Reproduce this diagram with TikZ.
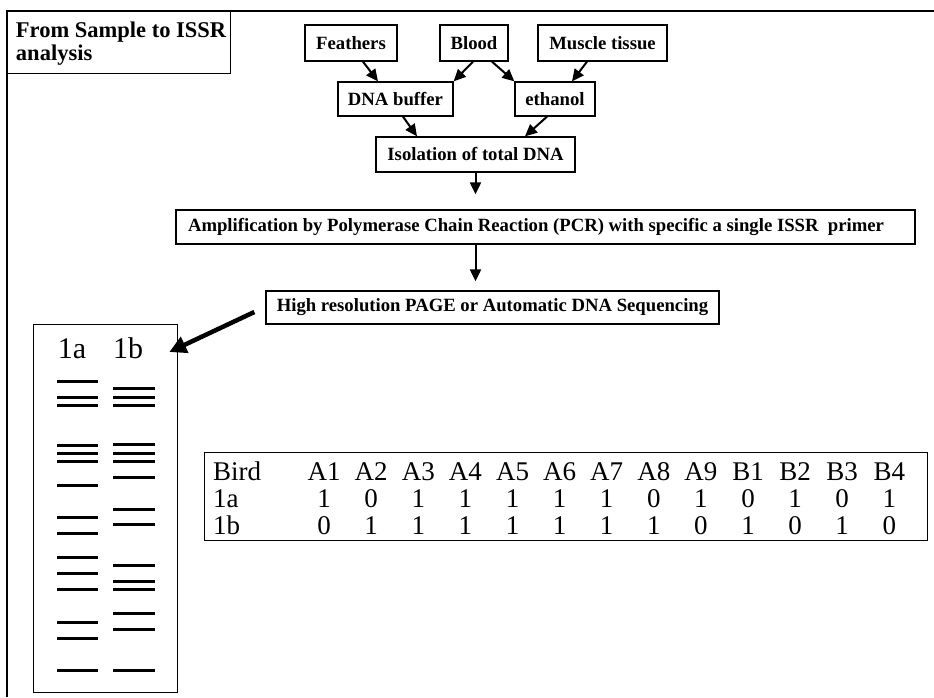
\documentclass[tikz,border=0pt]{standalone}
\usepackage{fontspec}
\setmainfont{Liberation Serif}
\usetikzlibrary{arrows.meta}

\tikzset{
  every box/.style={draw, line width=1.3pt, inner sep=2pt,
    font=\fontsize{18.7}{20}\selectfont\bfseries},
  band/.style={line width=3pt},
  cell/.style={inner sep=0pt, font=\fontsize{27}{27}\selectfont},
}

\begin{document}
\begin{tikzpicture}[x=1pt, y=-1pt, >={Triangle[length=12pt, width=11pt]}, line width=2pt]

\useasboundingbox (0,0) rectangle (934,697);
\draw [line width=1.5pt] (7,697) -- (7,11) -- (934,11);

\node [every box/.try, minimum width=223, minimum height=62, anchor=north west] (title) at (7,11) {};
\node [font=\fontsize{22.5}{23}\selectfont\bfseries, align=left, anchor=west, inner sep=0pt]
  (title-text) at ([xshift=8pt, yshift=-1pt]title.west) {From Sample to ISSR\\analysis};

\foreach \m/\w/\x [count=\i] in {Feathers/92/351, Blood/68/474, Muscle tissue/129/602.5}
  \node [every box/.try, minimum width=\w, minimum height=36] (source-\i) at (\x,43) {\m};

\node [every box/.try, minimum width=115, minimum height=34] (buffer) at (395.5,99) {DNA buffer};
\node [every box/.try, minimum width=80, minimum height=34] (ethanol) at (555,99) {ethanol};
\node [every box/.try, minimum width=199, minimum height=35] (isolation) at (475.5,154.5) {Isolation of total DNA};
\node [every box/.try, minimum width=739, minimum height=34, inner xsep=12pt] (pcr) at (545.5,227)
  {\makebox[715pt][l]{Amplification by Polymerase Chain Reaction (PCR) with specific a single ISSR\ \ primer}};
\node [every box/.try, minimum width=453, minimum height=33] (page) at (492.5,307.5)
  {High resolution PAGE or Automatic DNA Sequencing};

\draw [->] ([xshift=12pt]source-1.south) -- ([xshift=-17.5pt]buffer.north);
\draw [->] ([xshift=-1pt]source-2.south) -- (buffer.north east);
\draw [->] ([xshift=18pt]source-2.south) -- (ethanol.north west);
\draw [->] ([xshift=-15.5pt]source-3.south) -- ([xshift=17pt]ethanol.north);
\draw [->] ([xshift=7.5pt]buffer.south) -- ([xshift=-58.5pt]isolation.north);
\draw [->] ([xshift=-8pt]ethanol.south) -- ([xshift=49.5pt]isolation.north);
\draw [->, shorten >=15pt] (isolation) -- (isolation |- pcr.north);
\draw [->, shorten >=9pt] (isolation |- pcr.south) -- (isolation |- page.north);

\node [draw, line width=1.3pt, minimum width=144, minimum height=368, anchor=north west] (gel) at (33,324) {};
\foreach \l/\x in {1a/72, 1b/128}
  \node [cell, font=\fontsize{30}{30}\selectfont, anchor=base] (lane-\l) at (\x,358) {\l};
\foreach \y in {381,397,405,445,453,461,485,517,533,557,573,589,622,638,670}
  \draw [band] (57,\y) -- (98,\y);
\foreach \y in {388,397,405,444,453,461,477,509,524,565,581,589,613,629,670}
  \draw [band] (113,\y) -- (155,\y);

\draw [-{Triangle[length=17pt, width=17pt]}, line width=4.5pt]
  ([xshift=-11pt, yshift=-4.5pt]page.west) -- ([xshift=-9pt, yshift=-28pt]gel.north east);

\node [draw, line width=1.3pt, minimum width=723, minimum height=88, anchor=north west] (table) at (204,452) {};
\node [cell, anchor=base west] (bird) at (212,480) {Bird};
\node [cell, anchor=base west] (row-a) at (212,507) {1a};
\node [cell, anchor=base west] (row-b) at (212,534) {1b};
\foreach \l [count=\i] in {A1,A2,A3,A4,A5,A6,A7,A8,A9,B1,B2,B3,B4}
  \node [cell, anchor=base] (head-\i) at (277+47.1*\i,480) {\l};
\foreach \v [count=\i] in {1,0,1,1,1,1,1,0,1,0,1,0,1}
  \node [cell, anchor=base] (value-a-\i) at (head-\i |- row-a.base) {\v};
\foreach \v [count=\i] in {0,1,1,1,1,1,1,1,0,1,0,1,0}
  \node [cell, anchor=base] (value-b-\i) at (head-\i |- row-b.base) {\v};

\end{tikzpicture}
\end{document}
